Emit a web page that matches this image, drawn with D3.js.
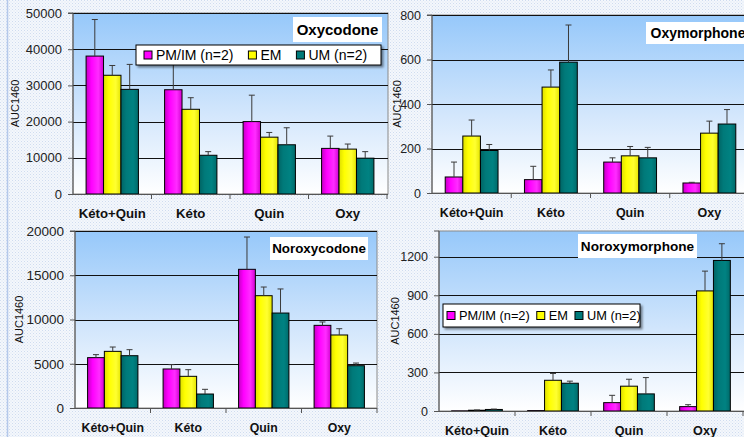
<!DOCTYPE html>
<html>
<head>
<meta charset="utf-8">
<script src="https://cdn.jsdelivr.net/npm/d3@7"></script>
<style>
html, body { margin: 0; padding: 0; background: #fff; }
svg { display: block; font-family: 'Liberation Sans', Arial, sans-serif; }
</style>
</head>
<body>
<svg id="chart"></svg>
<script>
const categories = ['Kéto+Quin', 'Kéto', 'Quin', 'Oxy'];
const groups = ['PM/IM (n=2)', 'EM', 'UM (n=2)'];

// values per category, in the order [PM/IM, EM, UM]
const oxycodoneMean = [[38100, 32800, 28900], [28800, 23400, 10700], [20000, 15700, 13600], [12600, 12400, 9900]];
const oxycodoneSd = [[10100, 2700, 6900], [8700, 3200, 1000], [7300, 1300, 4700], [3400, 1400, 1800]];
const oxycodoneTicks = [0, 10000, 20000, 30000, 40000, 50000];

const oxymorphoneMean = [[72, 256, 191], [60, 476, 588], [139, 167, 158], [45, 269, 310]];
const oxymorphoneSd = [[67, 72, 27], [60, 77, 167], [19, 42, 47], [3, 54, 65]];
const oxymorphoneTicks = [0, 200, 400, 600, 800];

const noroxycodoneMean = [[5690, 6400, 5910], [4410, 3580, 1580], [15670, 12690, 10730], [9340, 8250, 4780]];
const noroxycodoneSd = [[340, 490, 680], [490, 750, 530], [3650, 980, 2720], [380, 710, 300]];
const noroxycodoneTicks = [0, 5000, 10000, 15000, 20000];

const noroxymorphoneMean = [[1, 6, 12], [3, 239, 216], [65, 193, 133], [34, 934, 1171]];
const noroxymorphoneSd = [[0, 2, 3], [0, 53, 16], [57, 54, 127], [15, 154, 130]];
const noroxymorphoneTicks = [0, 300, 600, 900, 1200];

const width = 744;
const height = 437;

const svg = d3.select('#chart')
    .attr('width', width)
    .attr('height', height);

const defs = svg.append('defs');

/* dotted page background */
const pat = defs.append('pattern')
    .attr('id', 'dots')
    .attr('width', 3)
    .attr('height', 3)
    .attr('patternUnits', 'userSpaceOnUse');
pat.append('rect').attr('width', 3).attr('height', 3).attr('fill', '#f4f7fc');
pat.append('rect').attr('x', 0).attr('y', 0).attr('width', 1).attr('height', 1).attr('fill', '#cfdcef');
pat.append('rect').attr('x', 1.5).attr('y', 1.5).attr('width', 1).attr('height', 1).attr('fill', '#dbe5f3');

svg.append('rect')
    .attr('width', width)
    .attr('height', height)
    .attr('fill', 'url(#dots)');

svg.append('line')
    .attr('x1', 7.5).attr('x2', 7.5)
    .attr('y1', 0).attr('y2', height)
    .attr('stroke', '#b4c8ea')
    .attr('stroke-width', 1.5);

/* plot area gradient */
const bg = defs.append('linearGradient')
    .attr('id', 'plotBg')
    .attr('x1', 0).attr('y1', 0).attr('x2', 0).attr('y2', 1);
bg.append('stop').attr('offset', '0%').attr('stop-color', '#96c8fa');
bg.append('stop').attr('offset', '55%').attr('stop-color', '#d2e6fc');
bg.append('stop').attr('offset', '100%').attr('stop-color', '#ffffff');

/* bar fills */
const barShades = [
    ['#c400c4', '#ff00ff', '#ff2cff', '#d000d0'],
    ['#dede00', '#ffff00', '#ffff30', '#e4e400'],
    ['#006464', '#007a7a', '#008282', '#006a6a']
];
barShades.forEach((s, i) => {
    const g = defs.append('linearGradient')
        .attr('id', 'bar' + i)
        .attr('x1', 0).attr('y1', 0).attr('x2', 1).attr('y2', 0);
    g.append('stop').attr('offset', '0%').attr('stop-color', s[0]);
    g.append('stop').attr('offset', '30%').attr('stop-color', s[1]);
    g.append('stop').attr('offset', '70%').attr('stop-color', s[2]);
    g.append('stop').attr('offset', '100%').attr('stop-color', s[3]);
});

const shadow = defs.append('filter').attr('id', 'shadow')
    .attr('x', '-10%').attr('y', '-20%').attr('width', '130%').attr('height', '160%');
shadow.append('feDropShadow')
    .attr('dx', 2).attr('dy', 2).attr('stdDeviation', 0.8)
    .attr('flood-color', '#000').attr('flood-opacity', 0.45);

const panels = [
    {
        title: 'Oxycodone', mean: oxycodoneMean, sd: oxycodoneSd, ticks: oxycodoneTicks, max: 50000,
        left: 73, right: 387, top: 13, bottom: 194, plotRight: 388,
        tickFont: 13, catFont: 13.2, titleFont: 15, axisFont: 11, axisX: 15,
        titleBox: { x: 293, y: 17, w: 89, h: 25 },
        legend: { x: 136, y: 45, w: 245, h: 20, font: 14, mark: 8, gap: 15, pad: 8 }
    },
    {
        title: 'Oxymorphone', mean: oxymorphoneMean, sd: oxymorphoneSd, ticks: oxymorphoneTicks, max: 800,
        left: 432, right: 749, top: 15, bottom: 193, plotRight: 750,
        tickFont: 12.5, catFont: 12.5, titleFont: 14, axisFont: 11, axisX: 397,
        titleBox: { x: 646, y: 22, w: 104, h: 22 }
    },
    {
        title: 'Noroxycodone', mean: noroxycodoneMean, sd: noroxycodoneSd, ticks: noroxycodoneTicks, max: 20000,
        left: 75, right: 377, top: 231, bottom: 408, plotRight: 377,
        tickFont: 13.5, catFont: 12.3, titleFont: 13.4, axisFont: 11, axisX: 19,
        titleBox: { x: 270, y: 237, w: 98, h: 23 }
    },
    {
        title: 'Noroxymorphone', mean: noroxymorphoneMean, sd: noroxymorphoneSd, ticks: noroxymorphoneTicks, max: 1400,
        left: 439, right: 743, top: 231, bottom: 411, plotRight: 745,
        tickFont: 12.5, catFont: 12.6, titleFont: 13.6, axisFont: 11, axisX: 395,
        titleBox: { x: 578, y: 234, w: 119, h: 24 },
        legend: { x: 443, y: 304, w: 197, h: 23, font: 12.8, mark: 8, gap: 7, pad: 4 }
    }
];

function drawPanel (p) {
    const g = svg.append('g');

    const xScale = d3.scaleBand()
        .domain(categories)
        .range([p.left, p.right])
        .padding(0);
    const inner = d3.scaleBand()
        .domain(groups)
        .range([xScale.bandwidth() / 6, xScale.bandwidth() * 5 / 6])
        .padding(0);
    const yScale = d3.scaleLinear()
        .domain([0, p.max])
        .range([p.bottom, p.top]);

    /* PLOT AREA */
    g.append('rect')
        .attr('x', p.left)
        .attr('y', p.top)
        .attr('width', p.plotRight - p.left)
        .attr('height', p.bottom - p.top)
        .attr('fill', 'url(#plotBg)')
        .attr('stroke', '#8a8a8a')
        .attr('stroke-width', 1);

    /* GRIDLINES */
    g.append('g')
        .selectAll('line')
        .data(p.ticks.filter(t => t > 0))
        .enter()
        .append('line')
        .attr('x1', p.left)
        .attr('x2', p.plotRight)
        .attr('y1', d => Math.round(yScale(d)) + 0.5)
        .attr('y2', d => Math.round(yScale(d)) + 0.5)
        .attr('stroke', '#111')
        .attr('stroke-width', 1);

    /* BARS */
    const rows = [];
    p.mean.forEach((vals, ci) => {
        vals.forEach((v, gi) => {
            rows.push({ cat: categories[ci], grp: groups[gi], gi: gi, v: v, sd: p.sd[ci][gi] });
        });
    });

    g.append('g')
        .selectAll('rect')
        .data(rows).enter()
        .append('rect')
        .attr('x', d => xScale(d.cat) + inner(d.grp))
        .attr('y', d => yScale(d.v))
        .attr('width', inner.bandwidth())
        .attr('height', d => p.bottom - yScale(d.v))
        .attr('fill', d => `url(#bar${d.gi})`)
        .attr('stroke', '#000')
        .attr('stroke-width', 1);

    /* ERROR BARS */
    const err = g.append('g')
        .selectAll('g')
        .data(rows.filter(d => d.sd > 0)).enter()
        .append('g')
        .attr('stroke', '#3a3a3a')
        .attr('stroke-width', 1);
    err.append('line')
        .attr('x1', d => xScale(d.cat) + inner(d.grp) + inner.bandwidth() / 2)
        .attr('x2', d => xScale(d.cat) + inner(d.grp) + inner.bandwidth() / 2)
        .attr('y1', d => yScale(d.v))
        .attr('y2', d => yScale(d.v + d.sd));
    err.append('line')
        .attr('x1', d => xScale(d.cat) + inner(d.grp) + inner.bandwidth() / 2 - 3)
        .attr('x2', d => xScale(d.cat) + inner(d.grp) + inner.bandwidth() / 2 + 3)
        .attr('y1', d => yScale(d.v + d.sd))
        .attr('y2', d => yScale(d.v + d.sd));

    /* AXES */
    const yAxis = d3.axisLeft(yScale)
        .tickValues(p.ticks)
        .tickSize(5)
        .tickPadding(6)
        .tickFormat(d3.format('d'));
    const ya = g.append('g')
        .attr('transform', `translate(${p.left}, 0)`)
        .call(yAxis);
    ya.select('.domain').attr('stroke', '#555').attr('d', `M-5,${p.top}H0V${p.bottom}`);
    ya.selectAll('.tick line').attr('stroke', '#555');
    ya.selectAll('.tick text')
        .attr('fill', '#222')
        .style('font-size', `${p.tickFont}px`)
        .style('font-family', "'Liberation Sans', Arial, sans-serif");

    const xAxis = d3.axisBottom(xScale).tickSize(0).tickPadding(0);
    const xa = g.append('g')
        .attr('transform', `translate(0, ${p.bottom})`)
        .call(xAxis);
    xa.select('.domain').attr('stroke', '#555').attr('d', `M${p.left},0.5H${p.plotRight}`);
    xa.selectAll('.tick text')
        .attr('y', 24)
        .attr('dy', 0)
        .attr('fill', '#111')
        .style('font-size', `${p.catFont}px`)
        .style('font-weight', 'bold')
        .style('font-family', "'Liberation Sans', Arial, sans-serif");
    xa.append('g')
        .selectAll('line')
        .data(categories.slice(1).concat(['end']))
        .enter()
        .append('line')
        .attr('x1', d => d === 'end' ? p.right : xScale(d))
        .attr('x2', d => d === 'end' ? p.right : xScale(d))
        .attr('y1', 0)
        .attr('y2', 5)
        .attr('stroke', '#555');

    g.append('text')
        .attr('transform', `translate(${p.axisX}, ${(p.top + p.bottom) / 2}) rotate(-90)`)
        .attr('text-anchor', 'middle')
        .attr('dy', '0.35em')
        .style('font-size', `${p.axisFont}px`)
        .attr('fill', '#111')
        .text('AUC1460');

    /* TITLE BOX */
    const tb = p.titleBox;
    g.append('rect')
        .attr('x', tb.x).attr('y', tb.y)
        .attr('width', tb.w).attr('height', tb.h)
        .attr('fill', '#fff');
    g.append('text')
        .attr('x', tb.x + tb.w / 2)
        .attr('y', tb.y + tb.h / 2)
        .attr('dy', '0.36em')
        .attr('text-anchor', 'middle')
        .style('font-size', `${p.titleFont}px`)
        .style('font-weight', 'bold')
        .attr('fill', '#000')
        .text(p.title);

    /* LEGEND */
    if (p.legend) {
        const lg = p.legend;
        const legend = g.append('g').attr('class', 'legend');
        legend.append('rect')
            .attr('x', lg.x).attr('y', lg.y)
            .attr('width', lg.w).attr('height', lg.h)
            .attr('fill', '#fff')
            .attr('stroke', '#000')
            .attr('stroke-width', 1)
            .attr('filter', 'url(#shadow)');
        let cx = lg.x + lg.pad;
        const cy = lg.y + lg.h / 2;
        groups.forEach((name, i) => {
            legend.append('rect')
                .attr('x', cx).attr('y', cy - lg.mark / 2)
                .attr('width', lg.mark).attr('height', lg.mark)
                .attr('fill', barShades[i][1])
                .attr('stroke', '#000');
            const t = legend.append('text')
                .attr('x', cx + lg.mark + 4)
                .attr('y', cy)
                .attr('dy', '0.36em')
                .style('font-size', `${lg.font}px`)
                .attr('fill', '#000')
                .text(name);
            cx += lg.mark + 4 + t.node().getComputedTextLength() + lg.gap;
        });
    }
}

panels.forEach(drawPanel);
</script>
</body>
</html>
